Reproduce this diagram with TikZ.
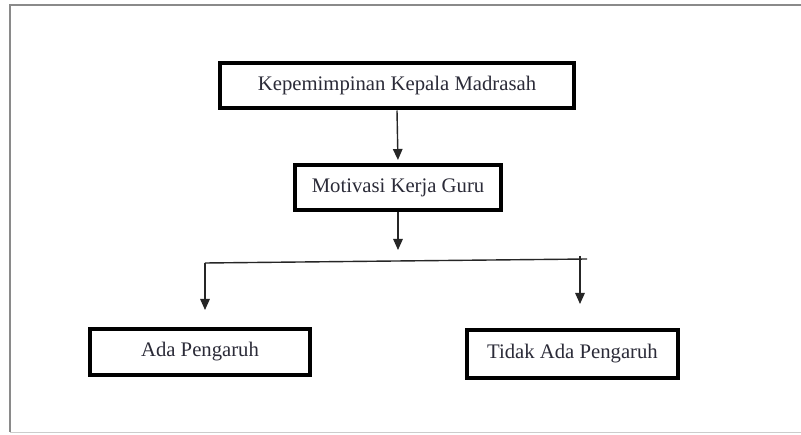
\documentclass[tikz,border=0pt]{standalone}
\usepackage{fontspec}
\setmainfont{Liberation Serif}
\usetikzlibrary{arrows.meta}
\definecolor{txt}{HTML}{2B2B38}
\definecolor{frameline}{HTML}{8A8A8A}
\begin{document}
\begin{tikzpicture}[x=1pt,y=-1pt,
  boxnode/.style={draw=black,line width=4pt,rectangle,inner sep=0pt,text=txt,
    font=\fontsize{20.7}{24}\selectfont},
  arr/.style={draw=black!85,line width=1.4pt,-{Triangle[length=11pt,width=9.5pt]}},
  plainline/.style={draw=black!85,line width=1.4pt}]
\useasboundingbox (0,0) rectangle (801,435);
\fill[white] (0,0) rectangle (801,435);
% frame
\draw[frameline,line width=1.2pt] (801,5) -- (10,5) -- (10,432);
\draw[black!20,line width=1pt] (10,433) -- (801,433);
% boxes
\node[boxnode,minimum width=354pt,minimum height=45pt] (b1) at (397,86) {Kepemimpinan Kepala Madrasah};
\node[boxnode,minimum width=206pt,minimum height=45pt] (b2) at (398,187.5) {Motivasi Kerja Guru};
\node[boxnode,minimum width=220pt,minimum height=46pt] (b3) at (200,352) {Ada Pengaruh};
\node[boxnode,minimum width=211pt,minimum height=48pt] (b4) at (572.5,354) {Tidak Ada Pengaruh};
% connectors
\coordinate (c1) at (398,250);
\coordinate (l0) at (205,263);
\coordinate (r0) at (587,259);
\coordinate (lt) at (205,310);
\coordinate (rs) at (580,256);
\coordinate (rt) at (580,304);
\draw[arr,shorten >=3pt] (b1.south) -- (b2.north);
\draw[arr] (b2.south) -- (c1);
\draw[plainline] (l0) -- (r0);
\draw[arr] (l0) -- (lt);
\draw[arr] (rs) -- (rt);
\end{tikzpicture}
\end{document}
